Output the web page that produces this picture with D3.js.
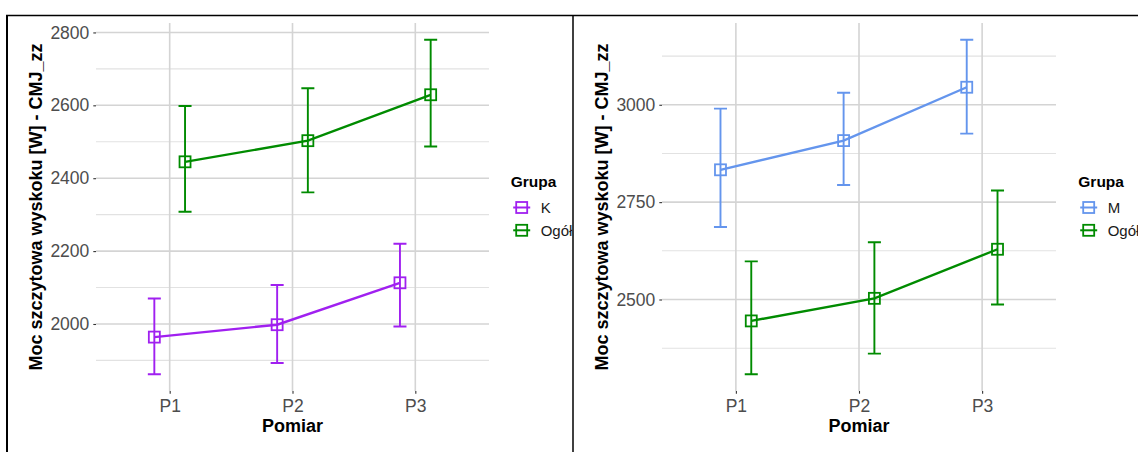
<!DOCTYPE html>
<html>
    <head>
        <meta charset="utf-8">
        <title>Moc szczytowa wyskoku</title>
        <script src="https://d3js.org/d3.v7.min.js" charset="utf-8"></script>
        <style>
            body { margin: 0; background: #fff; }
            text { font-family: "Liberation Sans", Arial, sans-serif; }
        </style>
    </head>
    <body>
        <script>
            // pomiary (os X)
            var pomiary = ["P1", "P2", "P3"];

            // lewy wykres: K + Ogol
            var kSrednia = [1964, 1998, 2113];
            var kDolny   = [1862, 1893, 1993];
            var kGorny   = [2070, 2107, 2220];

            // wspolne dla obu wykresow
            var ogolSrednia = [2445, 2503, 2629];
            var ogolDolny   = [2308, 2361, 2487];
            var ogolGorny   = [2598, 2647, 2780];

            // prawy wykres: M + Ogol
            var mSrednia = [2833, 2908, 3045];
            var mDolny   = [2686, 2794, 2926];
            var mGorny   = [2990, 3031, 3167];

            var ticksLewy = [2000, 2200, 2400, 2600, 2800];
            var ticksPrawy = [2500, 2750, 3000];

            var W = 1138, H = 452;
            var svg = d3.select("body").append("svg")
                .attr("width", W)
                .attr("height", H);

            svg.append("defs").append("clipPath").attr("id", "clipLewy")
                .append("rect").attr("x", 0).attr("y", 0).attr("width", 572).attr("height", H);

            function rysuj(g, cfg) {
                var x = d3.scalePoint().domain(pomiary).range([cfg.x0, cfg.x1]).padding(0.6);
                var step = x.step();

                // zakres Y jak w ggplot: min/max slupkow bledu + 5%
                var all = [];
                cfg.grupy.forEach(function(gr) { all = all.concat(gr.dolny, gr.gorny); });
                var ext = d3.extent(all);
                var pad = (ext[1] - ext[0]) * 0.05;
                var y = d3.scaleLinear().domain([ext[0] - pad, ext[1] + pad]).range([cfg.y1, cfg.y0]);

                // minor grid
                var majors = cfg.ticks;
                var d = majors[1] - majors[0];
                var minors = [];
                for (var v = majors[0] - d / 2; v <= y.domain()[1]; v += d) {
                    if (v >= y.domain()[0]) minors.push(v);
                }
                g.selectAll(".minor").data(minors).join("line")
                    .attr("x1", cfg.x0).attr("x2", cfg.x1)
                    .attr("y1", function(v) { return y(v); })
                    .attr("y2", function(v) { return y(v); })
                    .attr("stroke", "#e2e2e2").attr("stroke-width", 1.1);

                g.selectAll(".majorY").data(majors).join("line")
                    .attr("x1", cfg.x0).attr("x2", cfg.x1)
                    .attr("y1", function(v) { return y(v); })
                    .attr("y2", function(v) { return y(v); })
                    .attr("stroke", "#d4d4d4").attr("stroke-width", 1.6);

                g.selectAll(".majorX").data(pomiary).join("line")
                    .attr("x1", function(p) { return x(p); })
                    .attr("x2", function(p) { return x(p); })
                    .attr("y1", cfg.y0).attr("y2", cfg.y1)
                    .attr("stroke", "#d4d4d4").attr("stroke-width", 1.6);

                // osie
                var osY = g.append("g")
                    .attr("transform", "translate(" + cfg.x0 + ",0)")
                    .call(d3.axisLeft(y).tickValues(majors).tickFormat(d3.format("d")).tickSize(2.7).tickPadding(4));
                var osX = g.append("g")
                    .attr("transform", "translate(0," + cfg.y1 + ")")
                    .call(d3.axisBottom(x).tickSize(2.7).tickPadding(6));
                [osY, osX].forEach(function(os) {
                    os.select(".domain").remove();
                    os.selectAll(".tick line").attr("stroke", "#333").attr("stroke-width", 1.1);
                    os.selectAll(".tick text")
                        .attr("fill", "#4d4d4d")
                        .style("font-size", "17.5px")
                        .style("font-family", "'Liberation Sans', Arial, sans-serif");
                });

                // tytuly osi
                g.append("text")
                    .attr("x", (cfg.x0 + cfg.x1) / 2)
                    .attr("y", 432)
                    .attr("text-anchor", "middle")
                    .style("font-size", "18px").style("font-weight", "bold")
                    .text("Pomiar");
                g.append("text")
                    .attr("transform", "translate(" + cfg.tytulX + "," + ((cfg.y0 + cfg.y1) / 2) + ") rotate(-90)")
                    .attr("text-anchor", "middle")
                    .style("font-size", "18px").style("font-weight", "bold")
                    .text("Moc szczytowa wyskoku [W] - CMJ_zz");

                // dane
                var dodge = 0.125 * step;
                var cap = 0.053 * step;
                cfg.grupy.forEach(function(gr, i) {
                    var off = i === 0 ? -dodge : dodge;
                    var pts = pomiary.map(function(p, j) {
                        return { p: p, m: gr.srednia[j], lo: gr.dolny[j], hi: gr.gorny[j] };
                    });
                    var px = function(d) { return x(d.p) + off; };
                    var gg = g.append("g");

                    gg.append("path")
                        .datum(pts)
                        .attr("fill", "none")
                        .attr("stroke", gr.kolor)
                        .attr("stroke-width", 2.4)
                        .attr("d", d3.line().x(px).y(function(d) { return y(d.m); }));

                    gg.selectAll(".eb").data(pts).join("path")
                        .attr("fill", "none")
                        .attr("stroke", gr.kolor)
                        .attr("stroke-width", 1.9)
                        .attr("d", function(d) {
                            var cx = px(d), t = y(d.hi), b = y(d.lo);
                            return "M" + (cx - cap) + "," + t + "H" + (cx + cap) +
                                "M" + cx + "," + t + "V" + b +
                                "M" + (cx - cap) + "," + b + "H" + (cx + cap);
                        });

                    gg.selectAll(".pt").data(pts).join("rect")
                        .attr("x", function(d) { return px(d) - 5.5; })
                        .attr("y", function(d) { return y(d.m) - 5.5; })
                        .attr("width", 11).attr("height", 11)
                        .attr("fill", "none")
                        .attr("stroke", gr.kolor)
                        .attr("stroke-width", 1.8);
                });

                // legenda
                var leg = g.append("g");
                leg.append("text")
                    .attr("x", cfg.legX).attr("y", 187)
                    .style("font-size", "15.5px").style("font-weight", "bold")
                    .text("Grupa");
                var rows = leg.selectAll(".row").data(cfg.grupy).join("g")
                    .attr("transform", function(gr, i) { return "translate(" + cfg.legKeyX + "," + (207.5 + i * 22.8) + ")"; });
                rows.append("line")
                    .attr("x1", -8.5).attr("x2", 8.5)
                    .attr("stroke", function(gr) { return gr.kolor; })
                    .attr("stroke-width", 2);
                rows.append("rect")
                    .attr("x", -5.5).attr("y", -5.5).attr("width", 11).attr("height", 11)
                    .attr("fill", "none")
                    .attr("stroke", function(gr) { return gr.kolor; })
                    .attr("stroke-width", 1.8);
                rows.append("text")
                    .attr("x", 19).attr("y", 5.5)
                    .attr("fill", "#1a1a1a")
                    .style("font-size", "15px")
                    .text(function(gr) { return gr.nazwa; });
            }

            var zielony = "#008b00";

            rysuj(svg.append("g").attr("clip-path", "url(#clipLewy)"), {
                x0: 96, x1: 489, y0: 23, y1: 391,
                tytulX: 42,
                ticks: ticksLewy,
                legX: 510.7, legKeyX: 521.7,
                grupy: [
                    { nazwa: "K", kolor: "#a020f0", srednia: kSrednia, dolny: kDolny, gorny: kGorny },
                    { nazwa: "Ogół", kolor: zielony, srednia: ogolSrednia, dolny: ogolDolny, gorny: ogolGorny }
                ]
            });

            rysuj(svg.append("g"), {
                x0: 662, x1: 1056, y0: 23, y1: 391,
                tytulX: 608,
                ticks: ticksPrawy,
                legX: 1078.3, legKeyX: 1088.7,
                grupy: [
                    { nazwa: "M", kolor: "#6495ed", srednia: mSrednia, dolny: mDolny, gorny: mGorny },
                    { nazwa: "Ogół", kolor: zielony, srednia: ogolSrednia, dolny: ogolDolny, gorny: ogolGorny }
                ]
            });

            // ramki tabeli
            svg.append("line").attr("x1", 6).attr("x2", W).attr("y1", 15.5).attr("y2", 15.5)
                .attr("stroke", "#000").attr("stroke-width", 1.5);
            svg.append("line").attr("x1", 7).attr("x2", 7).attr("y1", 15).attr("y2", H)
                .attr("stroke", "#000").attr("stroke-width", 2);
            svg.append("line").attr("x1", 573).attr("x2", 573).attr("y1", 15).attr("y2", H)
                .attr("stroke", "#000").attr("stroke-width", 1.5);
        </script>
    </body>
</html>
